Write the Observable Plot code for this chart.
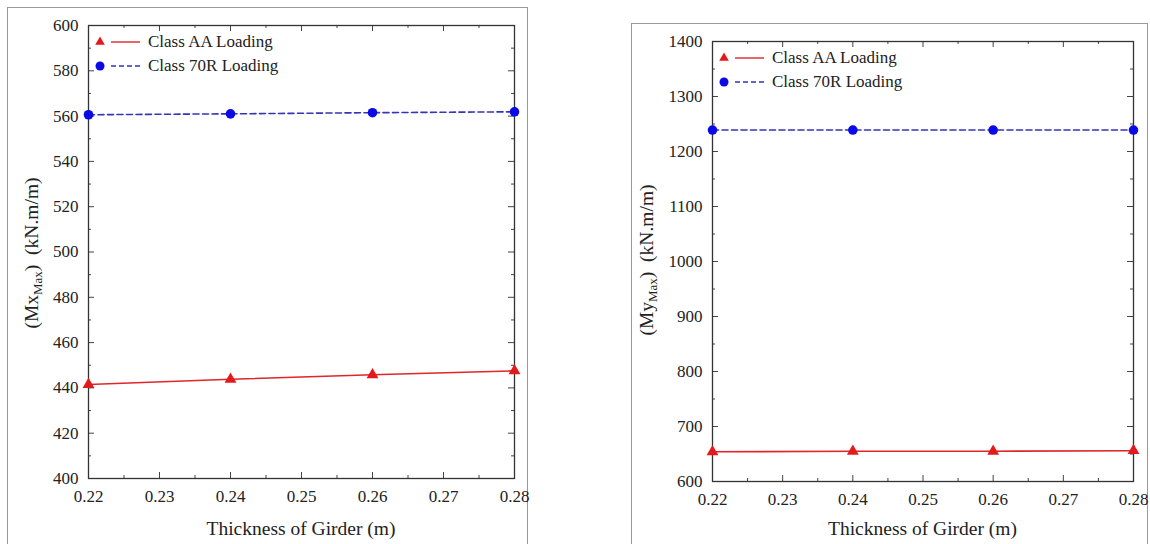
<!DOCTYPE html>
<html>
<head>
<meta charset="utf-8">
<script src="https://cdn.jsdelivr.net/npm/d3@7"></script>
<script src="https://cdn.jsdelivr.net/npm/@observablehq/plot@0.6"></script>
<style>
  html, body { margin: 0; padding: 0; background: #fff; }
  #wrap { position: relative; width: 1150px; height: 544px; overflow: hidden; background: #fff; }
  #wrap svg, #wrap svg text, #wrap svg tspan { font-family: 'Liberation Serif', 'Times New Roman', serif !important; }
  .box { position: absolute; border: 1.5px solid #9a9a9a; box-sizing: border-box; }
  .panel { position: absolute; top: 0; }
</style>
</head>
<body>
<div id="wrap">
  <div class="box" style="left:7px; top:7px; width:521px; height:560px;"></div>
  <div class="box" style="left:631px; top:23px; width:517px; height:560px;"></div>
  <div class="panel" id="left" style="left:0px;"></div>
  <div class="panel" id="right" style="left:575px;"></div>
</div>
<script>
// ---- data ----
const thickness = [0.22, 0.24, 0.26, 0.28];
const mxAA   = [441.5, 443.8, 445.8, 447.5];
const mx70R  = [560.6, 561.0, 561.5, 561.9];
const myAA   = [654, 655, 655, 656];
const my70R  = [1239, 1239, 1239, 1239];

const xMajor = [0.22, 0.23, 0.24, 0.25, 0.26, 0.27, 0.28];
const xMinor = [0.225, 0.235, 0.245, 0.255, 0.265, 0.275];
const yMajorL = [400, 420, 440, 460, 480, 500, 520, 540, 560, 580, 600];
const yMinorL = [410, 430, 450, 470, 490, 510, 530, 550, 570, 590];
const yMajorR = [600, 700, 800, 900, 1000, 1100, 1200, 1300, 1400];
const yMinorR = [650, 750, 850, 950, 1050, 1150, 1250, 1350];

const seriesNames = ["Class AA Loading", "Class 70R Loading"];
const xTitle = "Thickness of Girder (m)";

const FONT = "'Liberation Serif', 'Times New Roman', serif";
const RED = "#e31a1c", REDLINE = "#e0262a";
const BLUE = "#0a0ae6", BLUELINE = "#3535b5";
const TICK = "#444";

function panel(el, o) {
  const W = 575, H = 544;
  const pw = W - o.ml - o.mr, ph = H - o.mt - o.mb;
  const aa = thickness.map((x, i) => ({x, y: o.aa[i]}));
  const r7 = thickness.map((x, i) => ({x, y: o.r7[i]}));
  const chart = Plot.plot({
    width: W, height: H,
    marginLeft: o.ml, marginRight: o.mr, marginTop: o.mt, marginBottom: o.mb,
    style: {fontFamily: FONT, fontSize: "17px", background: "transparent", color: "#222", overflow: "visible"},
    x: {domain: [0.22, 0.28], label: null},
    y: {domain: o.yDomain, label: null},
    marks: [
      Plot.axisX(xMajor, {tickSize: 0, tickPadding: 11, tickFormat: d3.format(".2f"), fontSize: 17, fontFamily: FONT, label: null}),
      Plot.axisY(o.yMajor, {tickSize: 0, tickPadding: 10, tickFormat: d3.format("d"), fontSize: 17, fontFamily: FONT, label: null}),
      // inward ticks, bottom & top
      Plot.tickX(xMajor, {x: d => d, insetTop: ph - 6, stroke: TICK}),
      Plot.tickX(xMajor, {x: d => d, insetBottom: ph - 6, stroke: TICK}),
      Plot.tickX(xMinor, {x: d => d, insetTop: ph - 3, stroke: TICK}),
      Plot.tickX(xMinor, {x: d => d, insetBottom: ph - 3, stroke: TICK}),
      // inward ticks, left & right
      Plot.tickY(o.yMajor, {y: d => d, insetRight: pw - 6, stroke: TICK}),
      Plot.tickY(o.yMajor, {y: d => d, insetLeft: pw - 6, stroke: TICK}),
      Plot.tickY(o.yMinor, {y: d => d, insetRight: pw - 3, stroke: TICK}),
      Plot.tickY(o.yMinor, {y: d => d, insetLeft: pw - 3, stroke: TICK}),
      Plot.frame({stroke: "#333", strokeWidth: 1.3}),
      Plot.line(aa, {x: "x", y: "y", stroke: REDLINE, strokeWidth: 1.6}),
      Plot.line(r7, {x: "x", y: "y", stroke: BLUELINE, strokeWidth: 1.6, strokeDasharray: "6,3.5"}),
      Plot.dot(aa, {x: "x", y: "y", symbol: "triangle", fill: RED, r: 4.4}),
      Plot.dot(r7, {x: "x", y: "y", fill: BLUE, r: 4.8})
    ]
  });
  el.appendChild(chart);
  const svg = d3.select(chart);

  // x title
  svg.append("text")
    .attr("x", o.ml + pw / 2).attr("y", H - 9)
    .attr("text-anchor", "middle")
    .attr("font-family", FONT).attr("font-size", 19.5).attr("fill", "#222")
    .text(xTitle);

  // y title with subscript
  const yt = svg.append("text")
    .attr("transform", `translate(${o.yLabelX},${o.yLabelY}) rotate(-90)`)
    .attr("text-anchor", "middle")
    .attr("font-family", FONT).attr("font-size", 19.5).attr("fill", "#222");
  yt.append("tspan").text("(M" + o.sym);
  yt.append("tspan").attr("font-size", 13).attr("dy", 4).text("Max");
  yt.append("tspan").attr("dy", -4).text(")  (kN.m/m)");

  // legend
  const lg = svg.append("g").attr("transform", `translate(${o.ml},${o.mt})`);
  const rows = [
    {name: seriesNames[0], color: RED, line: REDLINE, dash: null, sym: d3.symbolTriangle, size: 40},
    {name: seriesNames[1], color: BLUE, line: BLUELINE, dash: "5,3", sym: d3.symbolCircle, size: 64}
  ];
  rows.forEach((r, i) => {
    const cy = 17 + i * 24;
    lg.append("path").attr("d", d3.symbol(r.sym, r.size)())
      .attr("transform", `translate(12,${cy})`).attr("fill", r.color);
    lg.append("line").attr("x1", 23).attr("x2", 52).attr("y1", cy).attr("y2", cy)
      .attr("stroke", r.line).attr("stroke-width", 1.4)
      .attr("stroke-dasharray", r.dash);
    lg.append("text").attr("x", 60).attr("y", cy + 5)
      .attr("text-anchor", "start")
      .attr("font-family", FONT).attr("font-size", 17).attr("fill", "#222")
      .text(r.name);
  });
}

panel(document.getElementById("left"), {
  ml: 88, mr: 61, mt: 25, mb: 66,
  yDomain: [400, 600], yMajor: yMajorL, yMinor: yMinorL,
  aa: mxAA, r7: mx70R, sym: "x", yLabelX: 38, yLabelY: 253
});
panel(document.getElementById("right"), {
  ml: 137, mr: 17, mt: 41, mb: 63,
  yDomain: [600, 1400], yMajor: yMajorR, yMinor: yMinorR,
  aa: myAA, r7: my70R, sym: "y", yLabelX: 78, yLabelY: 260
});
</script>
</body>
</html>
